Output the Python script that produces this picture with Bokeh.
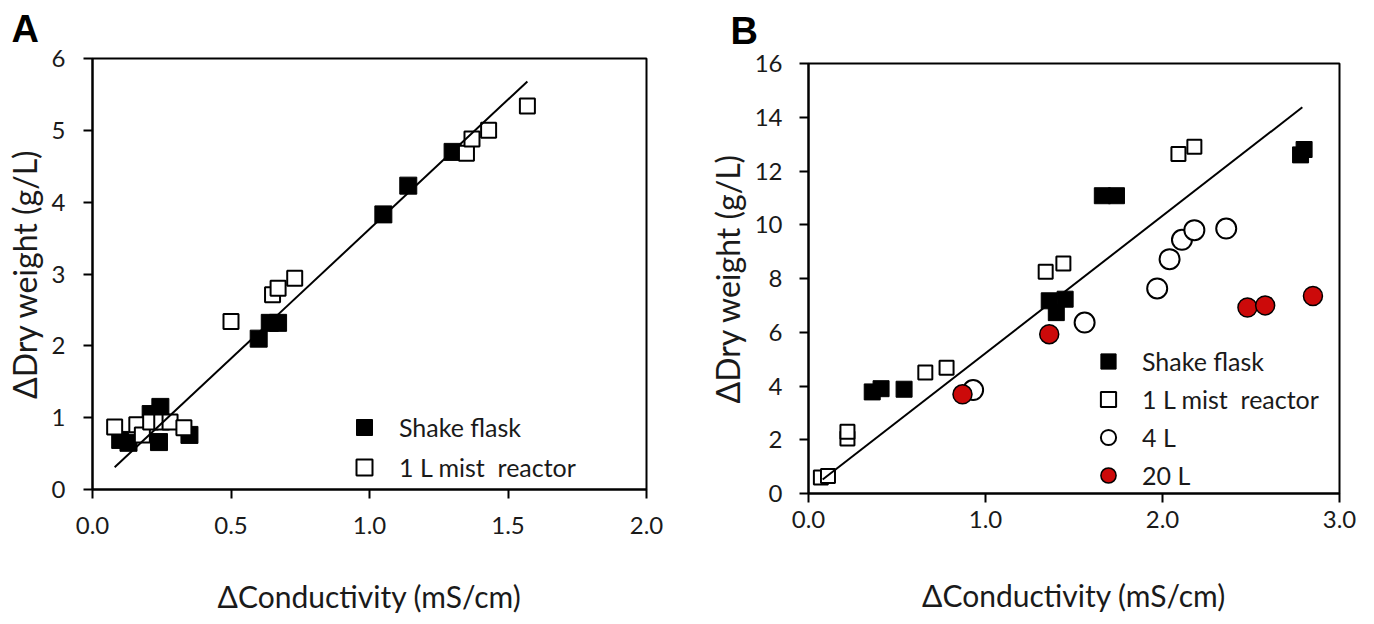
from bokeh.plotting import figure
from bokeh.models import Legend, LegendItem, Title, FixedTicker, NumeralTickFormatter, Range1d
from bokeh.layouts import row, column
from bokeh.embed import file_html
from bokeh.resources import INLINE

FONT = "Lato"
TXT = "#1a1a1a"

# ---------------- Panel A data ----------------
a_shake_x = [0.10, 0.13, 0.21, 0.245, 0.24, 0.35, 0.60, 0.64, 0.67, 1.05, 1.14, 1.30]
a_shake_y = [0.69, 0.65, 1.05, 1.15, 0.66, 0.76, 2.10, 2.32, 2.32, 3.83, 4.23, 4.70]
a_mist_x = [0.08, 0.16, 0.18, 0.21, 0.25, 0.28, 0.33, 0.50, 0.65, 0.67, 0.73, 1.35, 1.37, 1.43, 1.57]
a_mist_y = [0.87, 0.90, 0.76, 0.94, 0.94, 0.94, 0.86, 2.34, 2.71, 2.80, 2.94, 4.68, 4.88, 5.00, 5.34]
a_fit_x = [0.08, 1.57]
a_fit_y = [0.31, 5.68]
a_xticks = [0.0, 0.5, 1.0, 1.5, 2.0]
a_yticks = [0, 1, 2, 3, 4, 5, 6]

# ---------------- Panel B data ----------------
b_shake_x = [0.36, 0.41, 0.54, 1.36, 1.45, 1.40, 1.66, 1.74, 2.78, 2.80]
b_shake_y = [3.78, 3.90, 3.88, 7.17, 7.23, 6.73, 11.08, 11.08, 12.60, 12.80]
b_mist_x = [0.07, 0.11, 0.22, 0.22, 0.66, 0.78, 1.34, 1.44, 2.09, 2.18]
b_mist_y = [0.60, 0.65, 2.05, 2.30, 4.50, 4.68, 8.25, 8.56, 12.63, 12.90]
b_4l_x = [0.93, 1.56, 1.97, 2.04, 2.11, 2.18, 2.36]
b_4l_y = [3.85, 6.36, 7.63, 8.72, 9.44, 9.80, 9.86]
b_20l_x = [0.87, 1.36, 2.48, 2.58, 2.85]
b_20l_y = [3.69, 5.93, 6.92, 7.00, 7.35]
b_fit_x = [0.08, 2.79]
b_fit_y = [0.52, 14.37]
b_xticks = [0.0, 1.0, 2.0, 3.0]
b_yticks = [0, 2, 4, 6, 8, 10, 12, 14, 16]

labels = ["Shake flask", "1 L mist  reactor", "4 L", "20 L"]


def style(p, xticks, yticks, x_std, y_std, xt_std):
    p.xgrid.visible = False
    p.ygrid.visible = False
    p.outline_line_color = "black"
    p.outline_line_width = 2
    p.background_fill_color = "white"
    p.border_fill_color = "white"
    for ax in (p.xaxis[0], p.yaxis[0]):
        ax.axis_line_width = 2
        ax.axis_line_color = "black"
        ax.major_tick_line_width = 2
        ax.major_tick_line_color = "black"
        ax.major_tick_out = 9
        ax.major_tick_in = 0
        ax.minor_tick_line_color = None
        ax.major_label_text_font = FONT
        ax.major_label_text_font_size = "24px"
        ax.major_label_text_color = TXT
        ax.axis_label_text_font = FONT
        ax.axis_label_text_font_style = "normal"
        ax.axis_label_text_color = TXT
    p.xaxis[0].axis_label_text_font_size = "30px"
    p.yaxis[0].axis_label_text_font_size = "32px"
    p.xaxis[0].ticker = FixedTicker(ticks=xticks)
    p.yaxis[0].ticker = FixedTicker(ticks=yticks)
    p.xaxis[0].formatter = NumeralTickFormatter(format="0.0")
    p.xaxis[0].major_label_standoff = x_std
    p.yaxis[0].major_label_standoff = y_std
    p.xaxis[0].axis_label_standoff = xt_std
    p.yaxis[0].axis_label_standoff = 5


def make_legend(items, loc, gh, standoff):
    lg = Legend(items=items, location=loc)
    lg.border_line_color = None
    lg.background_fill_alpha = 0
    lg.padding = 0
    lg.margin = 0
    lg.spacing = 0
    lg.glyph_width = gh
    lg.glyph_height = gh
    lg.label_height = gh
    lg.label_standoff = standoff
    lg.label_text_font = FONT
    lg.label_text_font_size = "25px"
    lg.label_text_color = TXT
    return lg


def panel_letter(p, letter, offset, standoff):
    t = Title(text=letter, align="left", offset=offset, vertical_align="top", standoff=standoff,
              text_font="Liberation Sans", text_font_style="bold", text_font_size="38px",
              text_color="black")
    p.add_layout(t, "above")


# ---------------- Panel A ----------------
pa = figure(frame_width=554, frame_height=431, min_border_left=92, min_border_right=54,
            min_border_top=58, min_border_bottom=128,
            x_range=Range1d(0, 2), y_range=Range1d(0, 6),
            output_backend="svg", toolbar_location=None,
            x_axis_label="\u0394Conductivity (mS/cm)", y_axis_label="\u0394Dry weight (g/L)")
style(pa, a_xticks, a_yticks, 18, 18, 41)
ra1 = pa.scatter(a_shake_x, a_shake_y, marker="square", size=17, fill_color="black", line_color="black")
ra2 = pa.scatter(a_mist_x, a_mist_y, marker="square", size=15, fill_color="white", line_color="black", line_width=2)
pa.line(a_fit_x, a_fit_y, line_color="black", line_width=2)
pa.add_layout(make_legend([LegendItem(label=labels[0], renderers=[ra1]),
                           LegendItem(label=labels[1], renderers=[ra2])], (252, 2), 40, 15))
panel_letter(pa, "A", -81, 14)

# ---------------- Panel B ----------------
pb = figure(frame_width=531, frame_height=430, min_border_left=108, min_border_right=19,
            min_border_top=63, min_border_bottom=124,
            x_range=Range1d(0, 3), y_range=Range1d(0, 16),
            output_backend="svg", toolbar_location=None,
            x_axis_label="\u0394Conductivity (mS/cm)", y_axis_label="\u0394Dry weight (g/L)")
style(pb, b_xticks, b_yticks, 8, 17, 46)
rb3 = pb.scatter(b_4l_x, b_4l_y, marker="circle", size=20, fill_color="white", line_color="black", line_width=2)
rb4 = pb.scatter(b_20l_x, b_20l_y, marker="circle", size=19, fill_color="#cc0a0a", line_color="black", line_width=1.5)
rb1 = pb.scatter(b_shake_x, b_shake_y, marker="square", size=16, fill_color="black", line_color="black")
rb2 = pb.scatter(b_mist_x, b_mist_y, marker="square", size=14, fill_color="white", line_color="black", line_width=2)
pb.line(b_fit_x, b_fit_y, line_color="black", line_width=2)
pb.add_layout(make_legend([LegendItem(label=labels[0], renderers=[rb1]),
                           LegendItem(label=labels[1], renderers=[rb2]),
                           LegendItem(label=labels[2], renderers=[rb3]),
                           LegendItem(label=labels[3], renderers=[rb4])], (281, -1), 38, 15))
panel_letter(pb, "B", -78, 19)

layout = row(column(pa), column(pb))
open("out.html", "w").write(file_html(layout, INLINE))
